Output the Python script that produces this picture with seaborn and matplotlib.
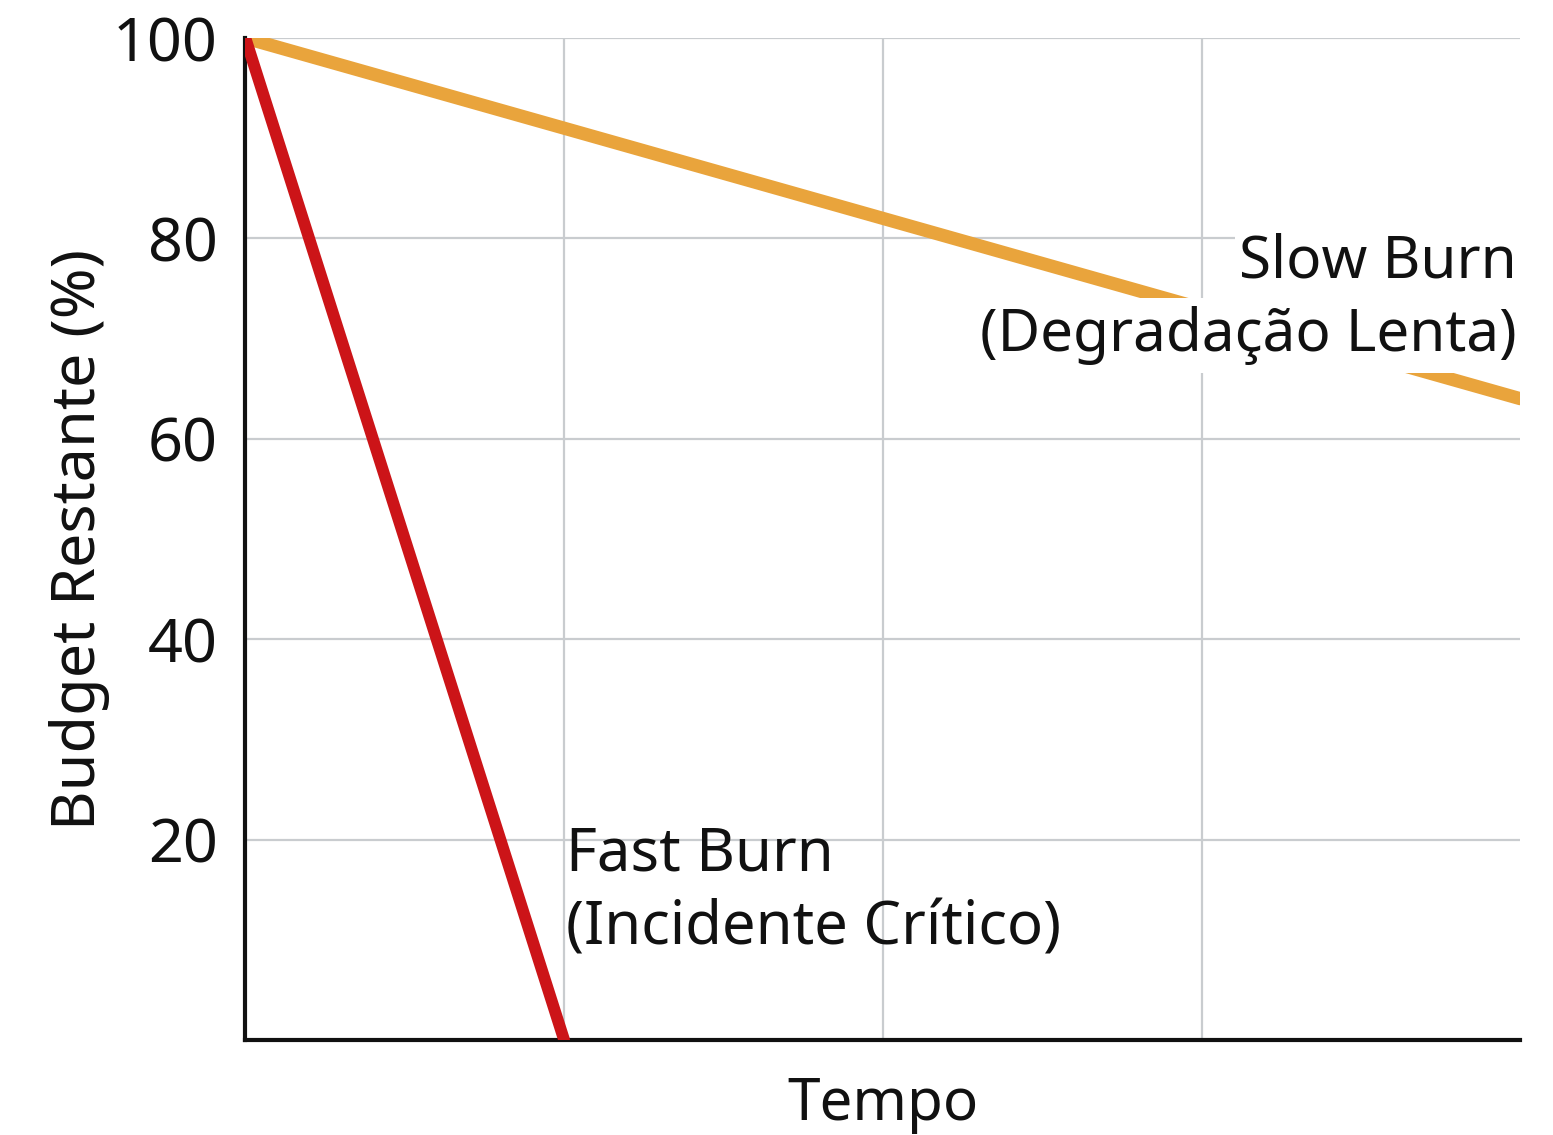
import pandas as pd
import matplotlib as mpl
import matplotlib.pyplot as plt
import seaborn as sb

mpl.use('agg')

# data
fast_x = [0, 1]
fast_y = [100, 0]
slow_x = [0, 4]
slow_y = [100, 64]
yticks = [20, 40, 60, 80, 100]

red = '#cc1418'
orange = '#e9a43c'
ink = '#111111'

sb.set_theme(style="whitegrid")
plt.rcParams['font.family'] = ['Noto Sans', 'DejaVu Sans']

df = pd.concat([
    pd.DataFrame({'tempo': fast_x, 'budget': fast_y, 'serie': 'fast'}),
    pd.DataFrame({'tempo': slow_x, 'budget': slow_y, 'serie': 'slow'}),
])

fig, ax = plt.subplots(figsize=(15.53, 11.35), dpi=100)
fig.subplots_adjust(left=0.158, right=0.979, bottom=0.0837, top=0.9665)

sb.lineplot(data=df[df.serie == 'slow'], x='tempo', y='budget', color=orange,
            linewidth=9.5, ax=ax, zorder=3)
sb.lineplot(data=df[df.serie == 'fast'], x='tempo', y='budget', color=red,
            linewidth=8.5, ax=ax, zorder=4)

ax.set_xlim(0, 4)
ax.set_ylim(0, 100)
ax.set_xticks([1, 2, 3])
ax.set_xticklabels([])
ax.set_yticks(yticks)
ax.grid(True, color='#c9cccf', linewidth=1.6)
ax.tick_params(axis='y', labelsize=44, pad=20, length=0, colors=ink)
ax.tick_params(axis='x', length=0)

for s in ['top', 'right']:
    ax.spines[s].set_visible(False)
for s in ['left', 'bottom']:
    ax.spines[s].set_color(ink)
    ax.spines[s].set_linewidth(3)

ax.set_xlabel('Tempo', fontsize=42, color=ink, labelpad=22)
ax.set_ylabel('Budget Restante (%)', fontsize=44, color=ink, labelpad=2)

# slow burn label: each line gets its own white box over the line
ax.text(3.99, 77.6, 'Slow Burn', ha='right', va='center',
        fontsize=42, color=ink, zorder=5,
        bbox=dict(facecolor='white', edgecolor='none', pad=3))
ax.text(3.99, 70.3, '(Degradação Lenta)', ha='right', va='center',
        fontsize=42, color=ink, zorder=5,
        bbox=dict(facecolor='white', edgecolor='none', pad=6))
ax.text(1.005, 14.8, 'Fast Burn\n(Incidente Crítico)', ha='left', va='center',
        fontsize=43, color=ink, linespacing=1.3, zorder=5)

fig.savefig('out.png', dpi=100)
